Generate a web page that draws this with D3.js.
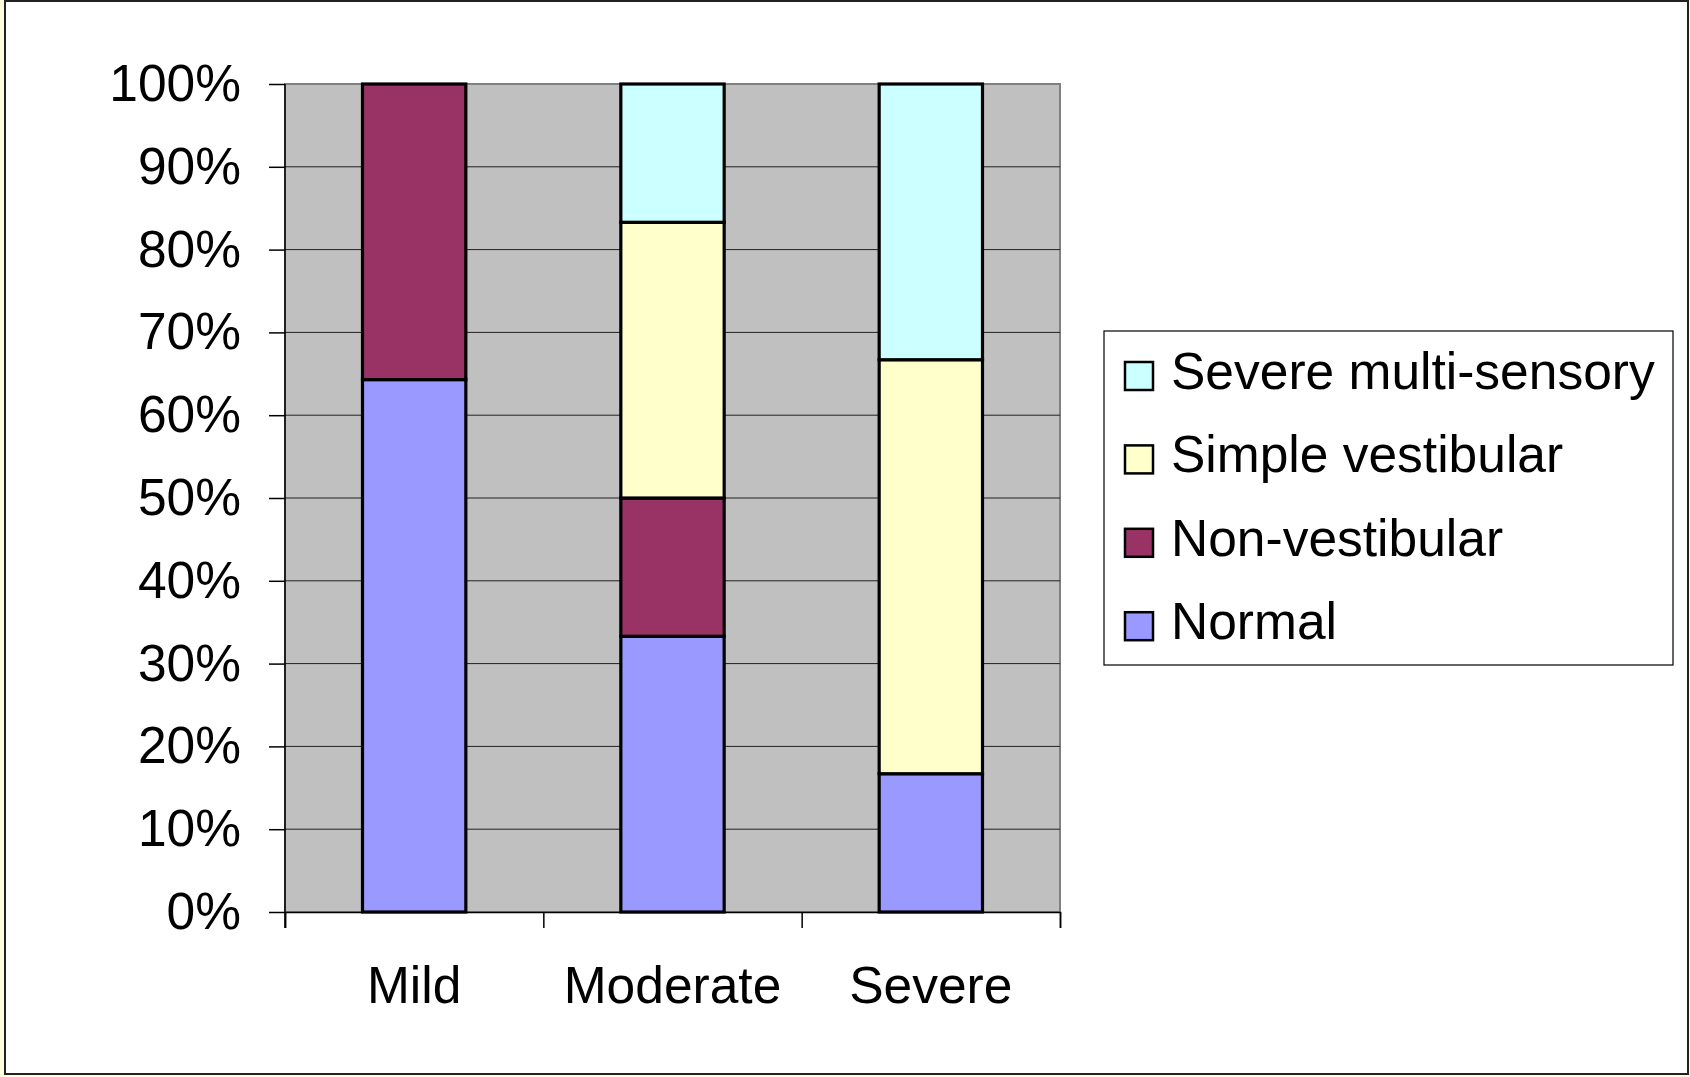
<!DOCTYPE html>
<html>
<head>
<meta charset="utf-8">
<script src="https://cdn.jsdelivr.net/npm/d3@7"></script>
<style>
  html, body { margin: 0; padding: 0; background: #FFFFE0; }
  svg { display: block; }
  text { font-family: "Liberation Sans", Arial, sans-serif; fill: #000; }
</style>
</head>
<body>
<svg id="chart" width="1690" height="1077"></svg>
<script>
// ---- data ----
const categories = ["Mild", "Moderate", "Severe"];
const seriesNames = ["Normal", "Non-vestibular", "Simple vestibular", "Severe multi-sensory"];
const normal = [64.3, 33.3, 16.7];
const nonVestibular = [35.7, 16.7, 0];
const simpleVestibular = [0, 33.3, 50.0];
const severeMultiSensory = [0, 16.7, 33.3];
const seriesColors = ["#9999FF", "#993366", "#FFFFCC", "#CCFFFF"];
const yTicks = [0, 10, 20, 30, 40, 50, 60, 70, 80, 90, 100];

// ---- layout ----
const svg = d3.select("#chart");
const plot = { left: 285, right: 1060, top: 84, bottom: 912 };
const fontSize = 51.5;

// outer frame
svg.append("rect").attr("x", 5).attr("y", 1).attr("width", 1683).attr("height", 1073)
  .attr("fill", "#fff").attr("stroke", "#222").attr("stroke-width", 2);

const x = d3.scaleBand().domain(categories).range([plot.left, plot.right])
  .paddingInner(0.6).paddingOuter(0.3);
const xEdge = d3.scaleLinear().domain([0, categories.length]).range([plot.left, plot.right]);
const y = d3.scaleLinear().domain([0, 100]).range([plot.bottom, plot.top]);

// plot background
svg.append("rect").attr("x", plot.left).attr("y", plot.top)
  .attr("width", plot.right - plot.left).attr("height", plot.bottom - plot.top)
  .attr("fill", "#C0C0C0").attr("stroke", "#808080").attr("stroke-width", 2);

// gridlines
svg.append("g").selectAll("line").data(yTicks.filter(d => d > 0 && d < 100)).join("line")
  .attr("x1", plot.left).attr("x2", plot.right)
  .attr("y1", d => y(d)).attr("y2", d => y(d))
  .attr("stroke", "#202020").attr("stroke-width", 1);

// stacked data
const rows = categories.map((c, i) => ({
  cat: c,
  "Normal": normal[i],
  "Non-vestibular": nonVestibular[i],
  "Simple vestibular": simpleVestibular[i],
  "Severe multi-sensory": severeMultiSensory[i]
}));
const stacked = d3.stack().keys(seriesNames)(rows);
const color = d3.scaleOrdinal().domain(seriesNames).range(seriesColors);

svg.append("g").selectAll("g").data(stacked).join("g")
  .attr("fill", d => color(d.key))
  .selectAll("rect").data(d => d.filter(s => s[1] - s[0] > 0)).join("rect")
  .attr("x", d => x(d.data.cat))
  .attr("width", x.bandwidth())
  .attr("y", d => y(d[1]))
  .attr("height", d => y(d[0]) - y(d[1]))
  .attr("stroke", "#000").attr("stroke-width", 3.2);

// y axis
const yAxis = svg.append("g").attr("transform", `translate(${plot.left},0)`)
  .call(d3.axisLeft(y).tickValues(yTicks).tickFormat(d => d + "%").tickSize(16).tickPadding(28));
yAxis.select(".domain").remove();
yAxis.selectAll(".tick line").attr("stroke", "#000").attr("stroke-width", 1.5);
yAxis.selectAll(".tick text").attr("font-size", fontSize).attr("dy", "0.32em")
  .attr("font-family", "Liberation Sans, Arial, sans-serif");
svg.append("line").attr("x1", plot.left).attr("x2", plot.left)
  .attr("y1", plot.top).attr("y2", plot.bottom + 16)
  .attr("stroke", "#000").attr("stroke-width", 1.5);

// x axis ticks at category boundaries
const xTickAxis = svg.append("g").attr("transform", `translate(0,${plot.bottom})`)
  .call(d3.axisBottom(xEdge).tickValues(d3.range(categories.length + 1)).tickFormat("").tickSize(16));
xTickAxis.select(".domain").attr("stroke", "#000").attr("stroke-width", 1.5);
xTickAxis.selectAll(".tick line").attr("stroke", "#000").attr("stroke-width", 1.5);

// x labels
const xLabAxis = svg.append("g").attr("transform", `translate(0,${plot.bottom})`)
  .call(d3.axisBottom(x).tickSize(0).tickPadding(54));
xLabAxis.select(".domain").remove();
xLabAxis.selectAll(".tick text").attr("font-size", fontSize)
  .attr("font-family", "Liberation Sans, Arial, sans-serif");

// legend
const legend = svg.append("g");
legend.append("rect").attr("x", 1104).attr("y", 331).attr("width", 569).attr("height", 334)
  .attr("fill", "#fff").attr("stroke", "#000").attr("stroke-width", 1.2);
const legendItems = seriesNames.slice().reverse();
const li = legend.selectAll("g.item").data(legendItems).join("g")
  .attr("class", "item")
  .attr("transform", (d, i) => `translate(0,${i * 83.4})`);
li.append("rect").attr("x", 1125).attr("y", 362).attr("width", 28).attr("height", 28)
  .attr("fill", d => color(d)).attr("stroke", "#000").attr("stroke-width", 2.5);
li.append("text").attr("x", 1171).attr("y", 389).attr("font-size", fontSize)
  .text(d => d);
</script>
</body>
</html>
